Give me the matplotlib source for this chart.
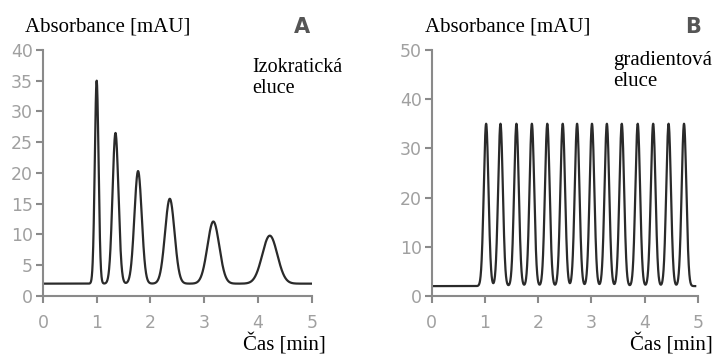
import matplotlib
matplotlib.use("Agg")
import matplotlib.pyplot as plt
import numpy as np

# peak parameters (time [min], height [mAU], width sigma [min])
baseline = 2.0

iso_times = [1.00, 1.35, 1.77, 2.36, 3.17, 4.22]
iso_heights = [35.0, 26.5, 20.3, 15.8, 12.1, 9.8]
iso_sigmas = [0.035, 0.055, 0.068, 0.088, 0.110, 0.140]

grad_times = [1.02, 1.29, 1.59, 1.88, 2.17, 2.46, 2.73,
              3.01, 3.29, 3.57, 3.87, 4.16, 4.45, 4.74]
grad_heights = [35.0] * 14
grad_sigmas = [0.044] * 14

t_end_iso = 5.0
t_end_grad = 4.95

tick_font = ['Liberation Sans Narrow', 'DejaVu Sans']
serif_font = ['Liberation Serif', 'DejaVu Serif']


def trace(t, times, heights, sigmas):
    y = np.full_like(t, baseline)
    for t0, h, s in zip(times, heights, sigmas):
        y += (h - baseline) * np.exp(-0.5 * ((t - t0) / s) ** 2)
    return y


def style_axes(ax, ymax, ystep):
    for side in ['top', 'right']:
        ax.spines[side].set_visible(False)
    for side in ['left', 'bottom']:
        ax.spines[side].set_color('#8a8a8a')
        ax.spines[side].set_linewidth(1.5)
    ax.set_xlim(0, 5)
    ax.set_ylim(0, ymax)
    ax.set_xticks(range(0, 6))
    ax.set_yticks(np.arange(0, ymax + 1, ystep))
    ax.tick_params(colors='#8a8a8a', width=1.5, length=5, labelsize=12.5)
    ax.tick_params(axis='x', pad=8)
    ax.tick_params(axis='y', pad=2)
    for lab in ax.get_xticklabels() + ax.get_yticklabels():
        lab.set_family(tick_font)
        lab.set_color('#a0a0a0')


fig = plt.figure(figsize=(7.15, 3.54), dpi=100)

axA = fig.add_axes([0.060, 0.164, 0.376, 0.695])
tA = np.linspace(0, t_end_iso, 2000)
axA.plot(tA, trace(tA, iso_times, iso_heights, iso_sigmas), color='#2a2a2a', lw=1.6)
style_axes(axA, 40, 5)

axB = fig.add_axes([0.604, 0.164, 0.372, 0.695])
tB = np.linspace(0, t_end_grad, 2000)
axB.plot(tB, trace(tB, grad_times, grad_heights, grad_sigmas), color='#2a2a2a', lw=1.6)
style_axes(axB, 50, 10)

# labels
fig.text(25 / 715, 1 - 27 / 354, 'Absorbance [mAU]', family=serif_font, fontsize=15, va='center', ha='left')
fig.text(302 / 715, 1 - 27 / 354, 'A', family='DejaVu Sans', fontsize=15, weight='bold', va='center', ha='center', color='#555555')
fig.text(252 / 715, 1 - 78 / 354, 'Izokratická\neluce', family=serif_font, fontsize=14.5, va='center', ha='left', linespacing=1.1)
fig.text(326 / 715, 1 - 344 / 354, 'Čas [min]', family=serif_font, fontsize=15, va='center', ha='right')

fig.text(425 / 715, 1 - 27 / 354, 'Absorbance [mAU]', family=serif_font, fontsize=15, va='center', ha='left')
fig.text(693 / 715, 1 - 27 / 354, 'B', family='DejaVu Sans', fontsize=15, weight='bold', va='center', ha='center', color='#555555')
fig.text(613 / 715, 1 - 71 / 354, 'gradientová\neluce', family=serif_font, fontsize=15, va='center', ha='left', linespacing=1.1)
fig.text(713 / 715, 1 - 344 / 354, 'Čas [min]', family=serif_font, fontsize=15, va='center', ha='right')

fig.savefig('out.png', dpi=100)
